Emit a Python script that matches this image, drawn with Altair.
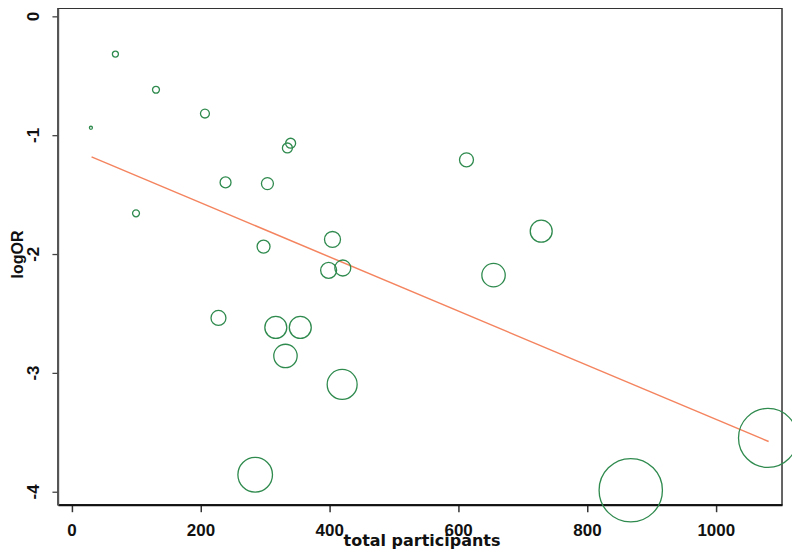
import altair as alt
import pandas as pd

# Study-level data
participants = [30, 68, 131, 207, 100, 335, 340, 239, 304, 298, 228, 405,
                399, 421, 317, 355, 332, 420, 285, 655, 729, 613, 868, 1081]
log_or = [-0.94, -0.32, -0.62, -0.82, -1.66, -1.11, -1.07, -1.40, -1.41, -1.94,
          -2.54, -1.88, -2.14, -2.12, -2.62, -2.62, -2.86, -3.10, -3.86, -2.18,
          -1.81, -1.21, -3.99, -3.55]
weight = [2.3, 9, 12, 20, 12, 25, 25, 30, 36, 42, 56, 64,
          64, 64, 121, 121, 137, 225, 300, 137, 121, 49, 1005, 870]

# Meta-regression fitted line (end points)
fit_x = [31, 1082]
fit_y = [-1.185, -3.58]

x_ticks = [0, 200, 400, 600, 800, 1000]
y_ticks = [0, -1, -2, -3, -4]

pts = pd.DataFrame({"participants": participants, "logOR": log_or, "weight": weight})
fit = pd.DataFrame({"participants": fit_x, "logOR": fit_y})

x_scale = alt.Scale(domain=[-21.2, 1102.8], nice=False, zero=False)
y_scale = alt.Scale(domain=[-4.112, 0.065], nice=False, zero=False)

x_axis = alt.Axis(
    values=x_ticks, grid=False, title="total participants",
    labelExpr="'' + datum.value",
    labelFont="Liberation Sans", labelFontWeight="bold", labelFontSize=17,
    labelColor="#111", labelPadding=11, labelBaseline="top",
    tickSize=7, tickColor="#333", tickWidth=1.5,
    domain=True, domainColor="#111", domainWidth=2,
    titleFont="DejaVu Sans", titleFontWeight="bold", titleFontSize=16,
    titleColor="#111", titleX=364, titleY=41, titleBaseline="alphabetic",
    titleAlign="center",
)
y_axis = alt.Axis(
    values=y_ticks, grid=False, title="logOR",
    labelExpr="'' + datum.value",
    labelFont="Liberation Sans", labelFontWeight="bold", labelFontSize=17,
    labelColor="#111", labelAngle=270, labelAlign="center",
    labelBaseline="alphabetic", labelPadding=13,
    tickSize=6, tickColor="#444", tickWidth=1.3,
    domain=True, domainColor="#555", domainWidth=1.5,
    titleFont="Liberation Sans", titleFontWeight="bold", titleFontSize=16,
    titleColor="#111", titleAngle=270, titleX=-40, titleY=246,
    titleAlign="center", titleBaseline="middle",
)

bubbles = alt.Chart(pts).mark_point(
    shape="circle", filled=False, color="#2f8a4e", strokeWidth=1.3, opacity=1
).encode(
    x=alt.X("participants:Q", scale=x_scale, axis=x_axis),
    y=alt.Y("logOR:Q", scale=y_scale, axis=y_axis),
    size=alt.Size("weight:Q", scale=alt.Scale(domain=[0, 1005], range=[0, 4020], zero=True), legend=None),
)

line = alt.Chart(fit).mark_line(color="#f4845f", strokeWidth=1.5).encode(
    x=alt.X("participants:Q", scale=x_scale),
    y=alt.Y("logOR:Q", scale=y_scale),
)

chart = alt.layer(line, bubbles).properties(
    width=725, height=497,
    autosize=alt.AutoSizeParams(type="none"),
    padding={"left": 50, "top": 0, "right": 10, "bottom": 44},
    background="white",
).configure_view(
    stroke="#333", strokeWidth=1.5
)

chart.save("out.html", embed_options={"renderer": "svg", "actions": False})
